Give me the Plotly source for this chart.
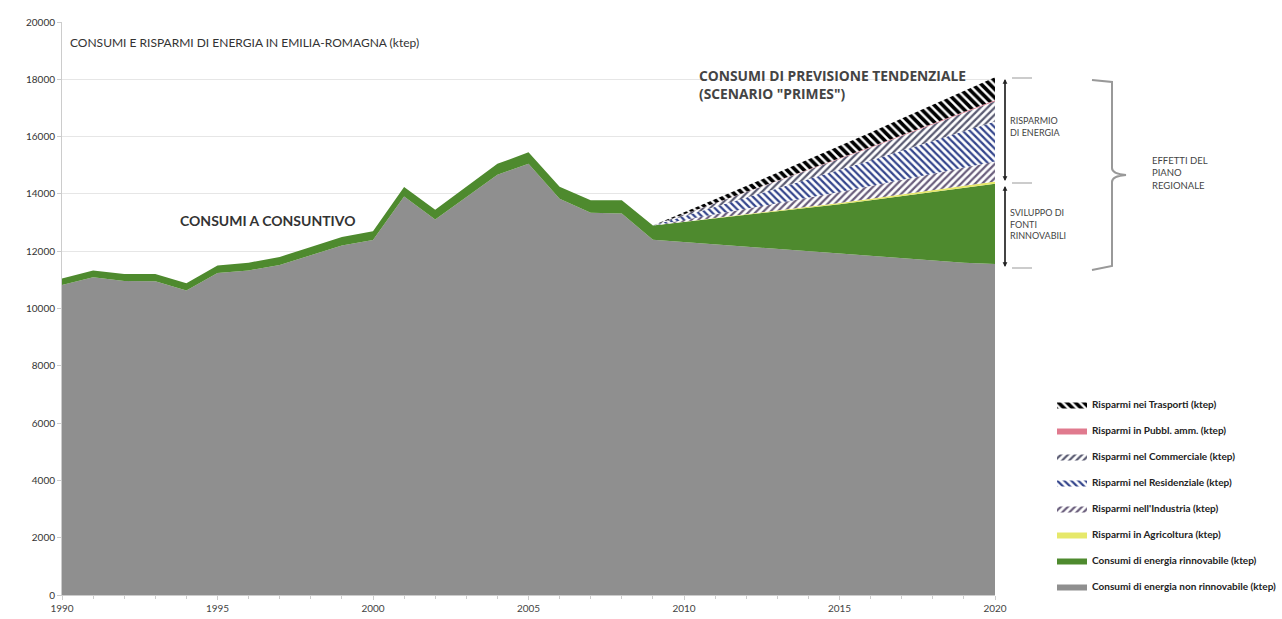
import plotly.graph_objects as go

years_hist = list(range(1990, 2010))
years_proj = list(range(2009, 2021))

# consumi a consuntivo (ktep)
non_rinnovabile_hist = [10820, 11090, 10960, 10950, 10630, 11240, 11330, 11520, 11860, 12200,
                        12390, 13910, 13110, 13890, 14670, 15050, 13830, 13340, 13320, 12400]
rinnovabile_hist = [230, 240, 240, 250, 250, 260, 270, 280, 290, 300,
                    310, 330, 340, 360, 380, 400, 420, 440, 460, 500]

# scenario 2009-2020 (ktep)
non_rinnovabile_proj = [12400, 12320, 12240, 12160, 12080, 12000, 11920, 11840, 11760, 11680, 11600, 11550]
rinnovabile_proj = [500, 700, 900, 1100, 1300, 1500, 1720, 1940, 2160, 2380, 2600, 2800]
agricoltura = [0, 8, 15, 22, 30, 37, 44, 51, 58, 65, 72, 80]
industria = [0, 65, 130, 190, 255, 320, 380, 445, 510, 575, 640, 700]
residenziale = [0, 130, 255, 380, 510, 640, 765, 890, 1020, 1150, 1275, 1400]
commerciale = [0, 65, 130, 190, 255, 320, 380, 445, 510, 575, 640, 700]
pubbl_amm = [0, 4, 7, 11, 14, 18, 22, 25, 29, 32, 36, 40]
trasporti = [0, 75, 145, 220, 290, 365, 440, 510, 585, 655, 730, 800]

years = years_hist + years_proj[1:]
non_rinnovabile = non_rinnovabile_hist + non_rinnovabile_proj[1:]
rinnovabile = rinnovabile_hist + rinnovabile_proj[1:]

FONT = "Lato"
L, R, T, B = 62, 995, 22, 595  # plot area in pixels


def px(x):
    return (x - L) / (R - L)


def py(y):
    return (B - y) / (B - T)


def hatch(shape, color, size=5, solidity=0.45):
    return dict(fillpattern=dict(shape=shape, fgcolor=color, fgopacity=1, bgcolor="white",
                                 size=size, solidity=solidity))


fig = go.Figure()

series = [
    ("Consumi di energia non rinnovabile (ktep)", years, non_rinnovabile, dict(fillcolor="#8f8f8f")),
    ("Consumi di energia rinnovabile (ktep)", years, rinnovabile, dict(fillcolor="#4e8a2e")),
    ("Risparmi in Agricoltura (ktep)", years_proj, agricoltura, dict(fillcolor="#e6e86a")),
    ("Risparmi nell'Industria (ktep)", years_proj, industria, hatch("/", "#6a5e7c")),
    ("Risparmi nel Residenziale (ktep)", years_proj, residenziale, hatch("\\", "#34458c")),
    ("Risparmi nel Commerciale (ktep)", years_proj, commerciale, hatch("/", "#5a5b72")),
    ("Risparmi in Pubbl. amm. (ktep)", years_proj, pubbl_amm, dict(fillcolor="#e07a8e")),
    ("Risparmi nei Trasporti (ktep)", years_proj, trasporti, hatch("\\", "#000000", 6, 0.6)),
]

for i, (name, xs, ys, style) in enumerate(series):
    fig.add_trace(go.Scatter(
        x=xs, y=ys, name=name, mode="lines", stackgroup="one",
        line=dict(width=0), legendgroup=str(i), legendrank=100 - i,
        hoverinfo="skip", **style,
    ))

annotations = [
    dict(x=px(68), y=py(42), text="CONSUMI E RISPARMI DI ENERGIA IN EMILIA-ROMAGNA (ktep)",
         xanchor="left", yanchor="middle", font=dict(size=12, color="#333")),
    dict(x=px(178), y=py(220), text="<b>CONSUMI A CONSUNTIVO</b>",
         xanchor="left", yanchor="middle", font=dict(size=14, color="#333")),
    dict(x=px(697), y=py(85), text="<b>CONSUMI DI PREVISIONE TENDENZIALE<br>(SCENARIO \"PRIMES\")</b>",
         xanchor="left", yanchor="middle", align="left",
         font=dict(family="Open Sans", size=13.8, color="#444")),
    dict(x=px(1008), y=py(126), text="RISPARMIO<br>DI ENERGIA",
         xanchor="left", yanchor="middle", align="left", font=dict(size=9, color="#444")),
    dict(x=px(1008), y=py(224), text="SVILUPPO DI<br>FONTI<br>RINNOVABILI",
         xanchor="left", yanchor="middle", align="left", font=dict(size=9, color="#444")),
    dict(x=px(1150), y=py(173), text="EFFETTI DEL<br>PIANO<br>REGIONALE",
         xanchor="left", yanchor="middle", align="left", font=dict(size=9.5, color="#444")),
]
for a in annotations:
    a.update(xref="paper", yref="paper", showarrow=False)

# double arrows
for y0, y1 in [(79, 181), (186, 267)]:
    for yh, yt in [(y0, y1), (y1, y0)]:
        annotations.append(dict(
            xref="paper", yref="paper", axref="pixel", ayref="pixel",
            x=px(1005), y=py(yh), ax=0, ay=yt - yh, text="", showarrow=True,
            arrowhead=2, arrowsize=0.8, arrowwidth=1.2, arrowcolor="#222",
        ))

shapes = []
for yy in [78, 183, 268]:
    shapes.append(dict(type="line", xref="paper", yref="paper",
                       x0=px(1012), x1=px(1032), y0=py(yy), y1=py(yy),
                       line=dict(color="#bbbbbb", width=1.5)))

# bracket
bx0, bx1, bx2 = px(1092), px(1112), px(1126)
path = (f"M {bx0},{py(80)} L {bx1},{py(82)} L {bx1},{py(168)} "
        f"Q {bx1},{py(174)} {bx2},{py(175)} Q {bx1},{py(176)} {bx1},{py(182)} "
        f"L {bx1},{py(266)} L {bx0},{py(270)}")
shapes.append(dict(type="path", xref="paper", yref="paper", path=path,
                   line=dict(color="#999999", width=2)))

fig.update_layout(
    width=1282, height=619,
    margin=dict(l=L, r=1282 - R, t=T, b=619 - B, autoexpand=False),
    plot_bgcolor="white", paper_bgcolor="white",
    font=dict(family=FONT, size=10, color="#444"),
    annotations=annotations, shapes=shapes,
    showlegend=True,
    legend=dict(
        x=px(1052), y=py(390), xanchor="left", yanchor="top",
        traceorder="grouped", tracegroupgap=7,
        font=dict(family=FONT, size=10, color="#222", weight="bold"),
        itemwidth=30, bgcolor="rgba(0,0,0,0)",
    ),
)
fig.update_xaxes(
    range=[1990, 2020], dtick=5, tick0=1990, showgrid=False,
    showline=True, linecolor="#cccccc", ticks="outside", ticklen=4, tickcolor="#cccccc",
    minor=dict(dtick=1, ticks="outside", ticklen=3, tickcolor="#cccccc"),
    tickfont=dict(size=10, color="#444"),
)
fig.update_yaxes(
    range=[0, 20000], dtick=2000, tickformat="d", showgrid=True, gridcolor="#e6e6e6",
    showline=True, linecolor="#cccccc", ticks="outside", ticklen=4, tickcolor="#cccccc",
    tickfont=dict(size=10, color="#333"), zeroline=False,
)

fig.write_html("out.html", post_script="document.body.style.margin='0';",
               config={"displayModeBar": False})
